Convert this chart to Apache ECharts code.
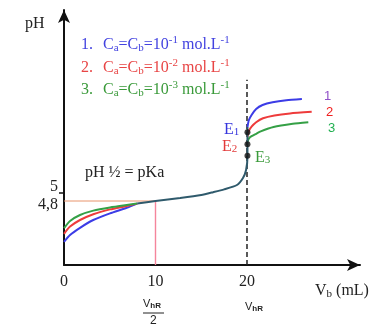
<!DOCTYPE html>
<html>
<head>
<meta charset="utf-8">
<script src="https://cdn.jsdelivr.net/npm/echarts@6/dist/echarts.min.js"></script>
<style>
  html, body { margin: 0; padding: 0; background: #fff; }
  #chart { width: 371px; height: 333px; }
</style>
</head>
<body>
<div id="chart"></div>
<script>
// volumes (mL) and pH
var vbStart = [0, 0.66, 1.75, 3.2, 5.03, 6.85, 8]
var phStart1 = [3.78, 3.95, 4.13, 4.325, 4.49, 4.63, 4.735]
var phStart2 = [3.98, 4.16, 4.325, 4.47, 4.59, 4.675, 4.735]
var phStart3 = [4.12, 4.30, 4.45, 4.56, 4.64, 4.70, 4.735]

var vbCommon = [8, 10, 12.7, 15, 16.3, 17.5, 18.9, 19.56, 19.9, 20.05, 20.05]
var phCommon = [4.735, 4.8, 4.875, 4.95, 5.02, 5.09, 5.2, 5.375, 5.575, 5.9, 6.65]

var vbEnd1 = [20.05, 20.2, 20.5, 21, 21.7, 22.8, 24.3, 26]
var phEnd1 = [6.65, 6.82, 6.95, 7.1, 7.2, 7.27, 7.32, 7.35]
var vbEnd2 = [20.05, 20.2, 20.5, 21, 21.75, 23, 24.7, 27.07]
var phEnd2 = [6.4, 6.55, 6.66, 6.77, 6.87, 6.94, 6.99, 7.03]
var vbEnd3 = [20.05, 20.2, 20.5, 21, 21.5, 22.9, 25, 26.7]
var phEnd3 = [6.28, 6.36, 6.42, 6.48, 6.54, 6.65, 6.73, 6.77]

var equivPh = [6.52, 6.22, 5.93]
var vEq = 20
var vHalf = 10
var pKa = 4.8
var xTicks = [0, 10, 20]
var yTicks = [5, 4.8]

var colors = ['#3c3ce6', '#ee3b3b', '#35a046']
var serif = 'Liberation Serif'

function pairs (xs, ys) {
  return xs.map(function (x, i) { return [x, ys[i]] })
}

function curve (xs, ys, color, z) {
  return {
    type: 'line',
    data: pairs(xs, ys),
    smooth: 0.2,
    showSymbol: false,
    silent: true,
    z: z || 2,
    lineStyle: { color: color, width: 2 }
  }
}

var chart = echarts.init(document.getElementById('chart'))

var series = [
  curve(vbStart, phStart1, colors[0]),
  curve(vbStart, phStart2, colors[1]),
  curve(vbStart, phStart3, colors[2]),
  curve(vbEnd1, phEnd1, colors[0]),
  curve(vbEnd2, phEnd2, colors[1]),
  curve(vbEnd3, phEnd3, colors[2]),
  {
    type: 'line',
    data: pairs(vbCommon, phCommon),
    smooth: 0.2,
    showSymbol: false,
    silent: true,
    z: 4,
    lineStyle: { color: '#2f5a6c', width: 2 }
  },
  // half equivalence guides
  {
    type: 'line',
    data: [[0, pKa], [vHalf, pKa]],
    showSymbol: false,
    silent: true,
    z: 1,
    lineStyle: { color: '#e8946c', width: 1 }
  },
  {
    type: 'line',
    data: [[vHalf, pKa], [vHalf, 3.2]],
    showSymbol: false,
    silent: true,
    z: 1,
    lineStyle: { color: '#f5859c', width: 1.4 }
  },
  // equivalence vertical
  {
    type: 'line',
    data: [[vEq, 3.2], [vEq, 7.83]],
    showSymbol: false,
    silent: true,
    z: 1,
    lineStyle: { color: '#222', width: 1.5, type: [5, 3] }
  },
  {
    type: 'scatter',
    data: equivPh.map(function (p) { return [vEq + 0.05, p] }),
    symbolSize: 6,
    z: 6,
    itemStyle: { color: '#111' }
  }
]

var sub = { fontSize: 11, lineHeight: 10, verticalAlign: 'bottom', fontFamily: serif }
var sup = { fontSize: 11, lineHeight: 10, verticalAlign: 'top', fontFamily: serif }

function concText (n, top, color) {
  return {
    type: 'text',
    left: 81,
    top: top,
    style: {
      text: '{t|' + n + '.}   {t|C}{s|a}{t|=C}{s|b}{t|=10}{p|-' + n + '}{t| mol.L}{p|-1}',
      fill: color,
      rich: {
        t: { fontSize: 16, lineHeight: 19, fontFamily: serif, fill: color },
        s: Object.assign({ fill: color }, sub),
        p: Object.assign({ fill: color }, sup)
      }
    }
  }
}

function eText (n, left, top, color) {
  return {
    type: 'text',
    left: left,
    top: top,
    style: {
      text: '{t|E}{s|' + n + '}',
      rich: {
        t: { fontSize: 16, lineHeight: 16, fontFamily: serif, fill: color },
        s: Object.assign({ fill: color }, sub)
      }
    }
  }
}

var option = {
  animation: false,
  grid: { left: 64, right: 11, top: 10, bottom: 68 },
  xAxis: {
    type: 'value',
    min: 0,
    max: 32.35,
    splitLine: { show: false },
    axisTick: { show: false },
    axisLine: {
      onZero: false,
      symbol: ['none', 'arrow'],
      symbolSize: [9, 13],
      lineStyle: { color: '#111', width: 2 }
    },
    axisLabel: {
      customValues: xTicks,
      margin: 9,
      fontFamily: serif,
      fontSize: 16,
      color: '#222'
    }
  },
  yAxis: {
    type: 'value',
    min: 3.2,
    max: 9.575,
    splitLine: { show: false },
    axisLine: {
      onZero: false,
      symbol: ['none', 'arrow'],
      symbolSize: [9, 13],
      lineStyle: { color: '#111', width: 2 }
    },
    axisTick: {
      customValues: [5],
      length: 5,
      lineStyle: { color: '#111', width: 1.5 }
    },
    axisLabel: {
      customValues: yTicks,
      margin: 6,
      color: '#222',
      formatter: function (v) {
        return v === 5 ? '{up|5}' : '{dn|4,8}'
      },
      rich: {
        up: { fontSize: 16, fontFamily: serif, padding: [0, 0, 12, 0], color: '#222' },
        dn: { fontSize: 16, fontFamily: serif, padding: [8, 0, 0, 0], color: '#222' }
      }
    }
  },
  graphic: [
    { type: 'text', left: 25, top: 16, style: { text: 'pH', fontSize: 16, fontFamily: serif, fill: '#222' } },
    concText(1, 35, '#4343e0'),
    concText(2, 58, '#e84545'),
    concText(3, 80, '#3a9a3a'),
    { type: 'text', left: 85, top: 165, style: { text: 'pH ½ = pKa', fontSize: 16, fontFamily: serif, fill: '#222' } },
    eText(1, 224, 122, '#3535dd'),
    eText(2, 222, 139, '#e23a3a'),
    eText(3, 255, 150, '#3a9a3a'),
    { type: 'text', left: 324, top: 90, style: { text: '1', fontSize: 13, fontFamily: 'Liberation Sans', fill: '#9050c8' } },
    { type: 'text', left: 326, top: 106, style: { text: '2', fontSize: 13, fontFamily: 'Liberation Sans', fill: '#f02020' } },
    { type: 'text', left: 328, top: 122, style: { text: '3', fontSize: 13, fontFamily: 'Liberation Sans', fill: '#20b050' } },
    {
      type: 'text',
      left: 315,
      top: 283,
      style: {
        text: '{t|V}{s|b}{t| (mL)}',
        rich: {
          t: { fontSize: 16, lineHeight: 18, fontFamily: serif, fill: '#222' },
          s: Object.assign({ fill: '#222' }, sub)
        }
      }
    },
    {
      type: 'text',
      left: 143,
      top: 298,
      style: {
        text: '{t|V}{s|hR}',
        rich: {
          t: { fontSize: 11, lineHeight: 12, fontFamily: 'Liberation Sans', fill: '#222' },
          s: { fontSize: 8, lineHeight: 8, verticalAlign: 'bottom', fontWeight: 'bold', fontFamily: 'Liberation Sans', fill: '#222' }
        }
      }
    },
    { type: 'line', shape: { x1: 143, y1: 313, x2: 164, y2: 313 }, style: { stroke: '#222', lineWidth: 1 } },
    { type: 'text', left: 150, top: 315, style: { text: '2', fontSize: 12, fontFamily: 'Liberation Sans', fill: '#222' } },
    {
      type: 'text',
      left: 245,
      top: 301,
      style: {
        text: '{t|V}{s|hR}',
        rich: {
          t: { fontSize: 11, lineHeight: 12, fontFamily: 'Liberation Sans', fill: '#222' },
          s: { fontSize: 8, lineHeight: 8, verticalAlign: 'bottom', fontWeight: 'bold', fontFamily: 'Liberation Sans', fill: '#222' }
        }
      }
    }
  ],
  series: series
}

chart.setOption(option)
</script>
</body>
</html>
